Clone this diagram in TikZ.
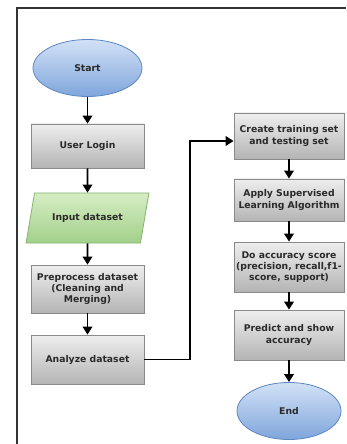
\documentclass[tikz,border=0pt]{standalone}
\usepackage{fontspec}
\setmainfont{DejaVu Sans}
\usetikzlibrary{shapes.geometric,arrows.meta,shadows}
\definecolor{boxtop}{HTML}{EEEEEE}
\definecolor{boxbot}{HTML}{B4B4B4}
\definecolor{boxline}{HTML}{8A8A8A}
\definecolor{elltop}{HTML}{D2E2F6}
\definecolor{ellbot}{HTML}{7FA5DC}
\definecolor{elline}{HTML}{5E86C0}
\definecolor{partop}{HTML}{D6EDC4}
\definecolor{parbot}{HTML}{A2D08A}
\definecolor{parline}{HTML}{86B470}
\definecolor{txt}{HTML}{2A2A2A}
\tikzset{
  base/.style={font=\bfseries\fontsize{9.3}{11.3}\selectfont, text=txt, align=center, inner sep=1bp},
  procbox/.style={base, rectangle, draw=boxline, line width=0.8bp, top color=boxtop, bottom color=boxbot,
    drop shadow={shadow xshift=1.2bp, shadow yshift=-1.2bp, opacity=0.35}},
  termell/.style={base, ellipse, draw=elline, line width=0.8bp, top color=elltop, bottom color=ellbot},
  iobox/.style={base, trapezium, trapezium left angle=62, trapezium right angle=118, trapezium stretches=true,
    draw=parline, line width=0.8bp, top color=partop, bottom color=parbot},
  flow/.style={line width=1.8bp, -{Triangle[length=8bp,width=9.5bp]}},
}
\begin{document}
\begin{tikzpicture}[x=1bp,y=-1bp]
\useasboundingbox (0,0) rectangle (346,444);
\fill[white] (0,0) rectangle (346,444);
\draw[line width=1.6bp, black!80] (346,8) -- (17,8) -- (17,444);

\node[termell, minimum width=109bp, minimum height=57bp] (start) at (87.5,68) {Start};
\node[procbox, minimum width=113bp, minimum height=44bp] (login) at (87.5,146) {User Login};
\node[iobox, minimum width=123bp, minimum height=50bp] (input) at (87.5,218) {Input dataset};
\node[procbox, minimum width=113bp, minimum height=48bp] (pre) at (87.5,289) {Preprocess dataset\\(Cleaning and\\Merging)};
\node[procbox, minimum width=113bp, minimum height=49bp] (ana) at (87.5,359.5) {Analyze dataset};

\node[procbox, minimum width=110bp, minimum height=46bp] (create) at (289,136) {Create training set\\and testing set};
\node[procbox, minimum width=110bp, minimum height=42bp] (apply) at (289,200) {Apply Supervised\\Learning Algorithm};
\node[procbox, minimum width=110bp, minimum height=50bp] (acc) at (289,267) {Do accuracy score\\(precision, recall,f1-\\score, support)};
\node[procbox, minimum width=110bp, minimum height=50bp] (pred) at (289,335) {Predict and show\\accuracy};
\node[termell, minimum width=104bp, minimum height=57bp] (end) at (289,411) {End};

\coordinate (mid) at (190,0);
\coordinate (cin) at ([yshift=-5bp]create.west);

\draw[flow] (start) -- (login);
\draw[flow] (login) -- (input);
\draw[flow] (input) -- (pre);
\draw[flow] (pre) -- (ana);
\draw[flow] (ana.east) -| (mid |- cin) -- (cin);
\draw[flow] (create) -- (apply);
\draw[flow] (apply) -- (acc);
\draw[flow] (acc) -- (pred);
\draw[flow] (pred) -- (end);
\end{tikzpicture}
\end{document}
